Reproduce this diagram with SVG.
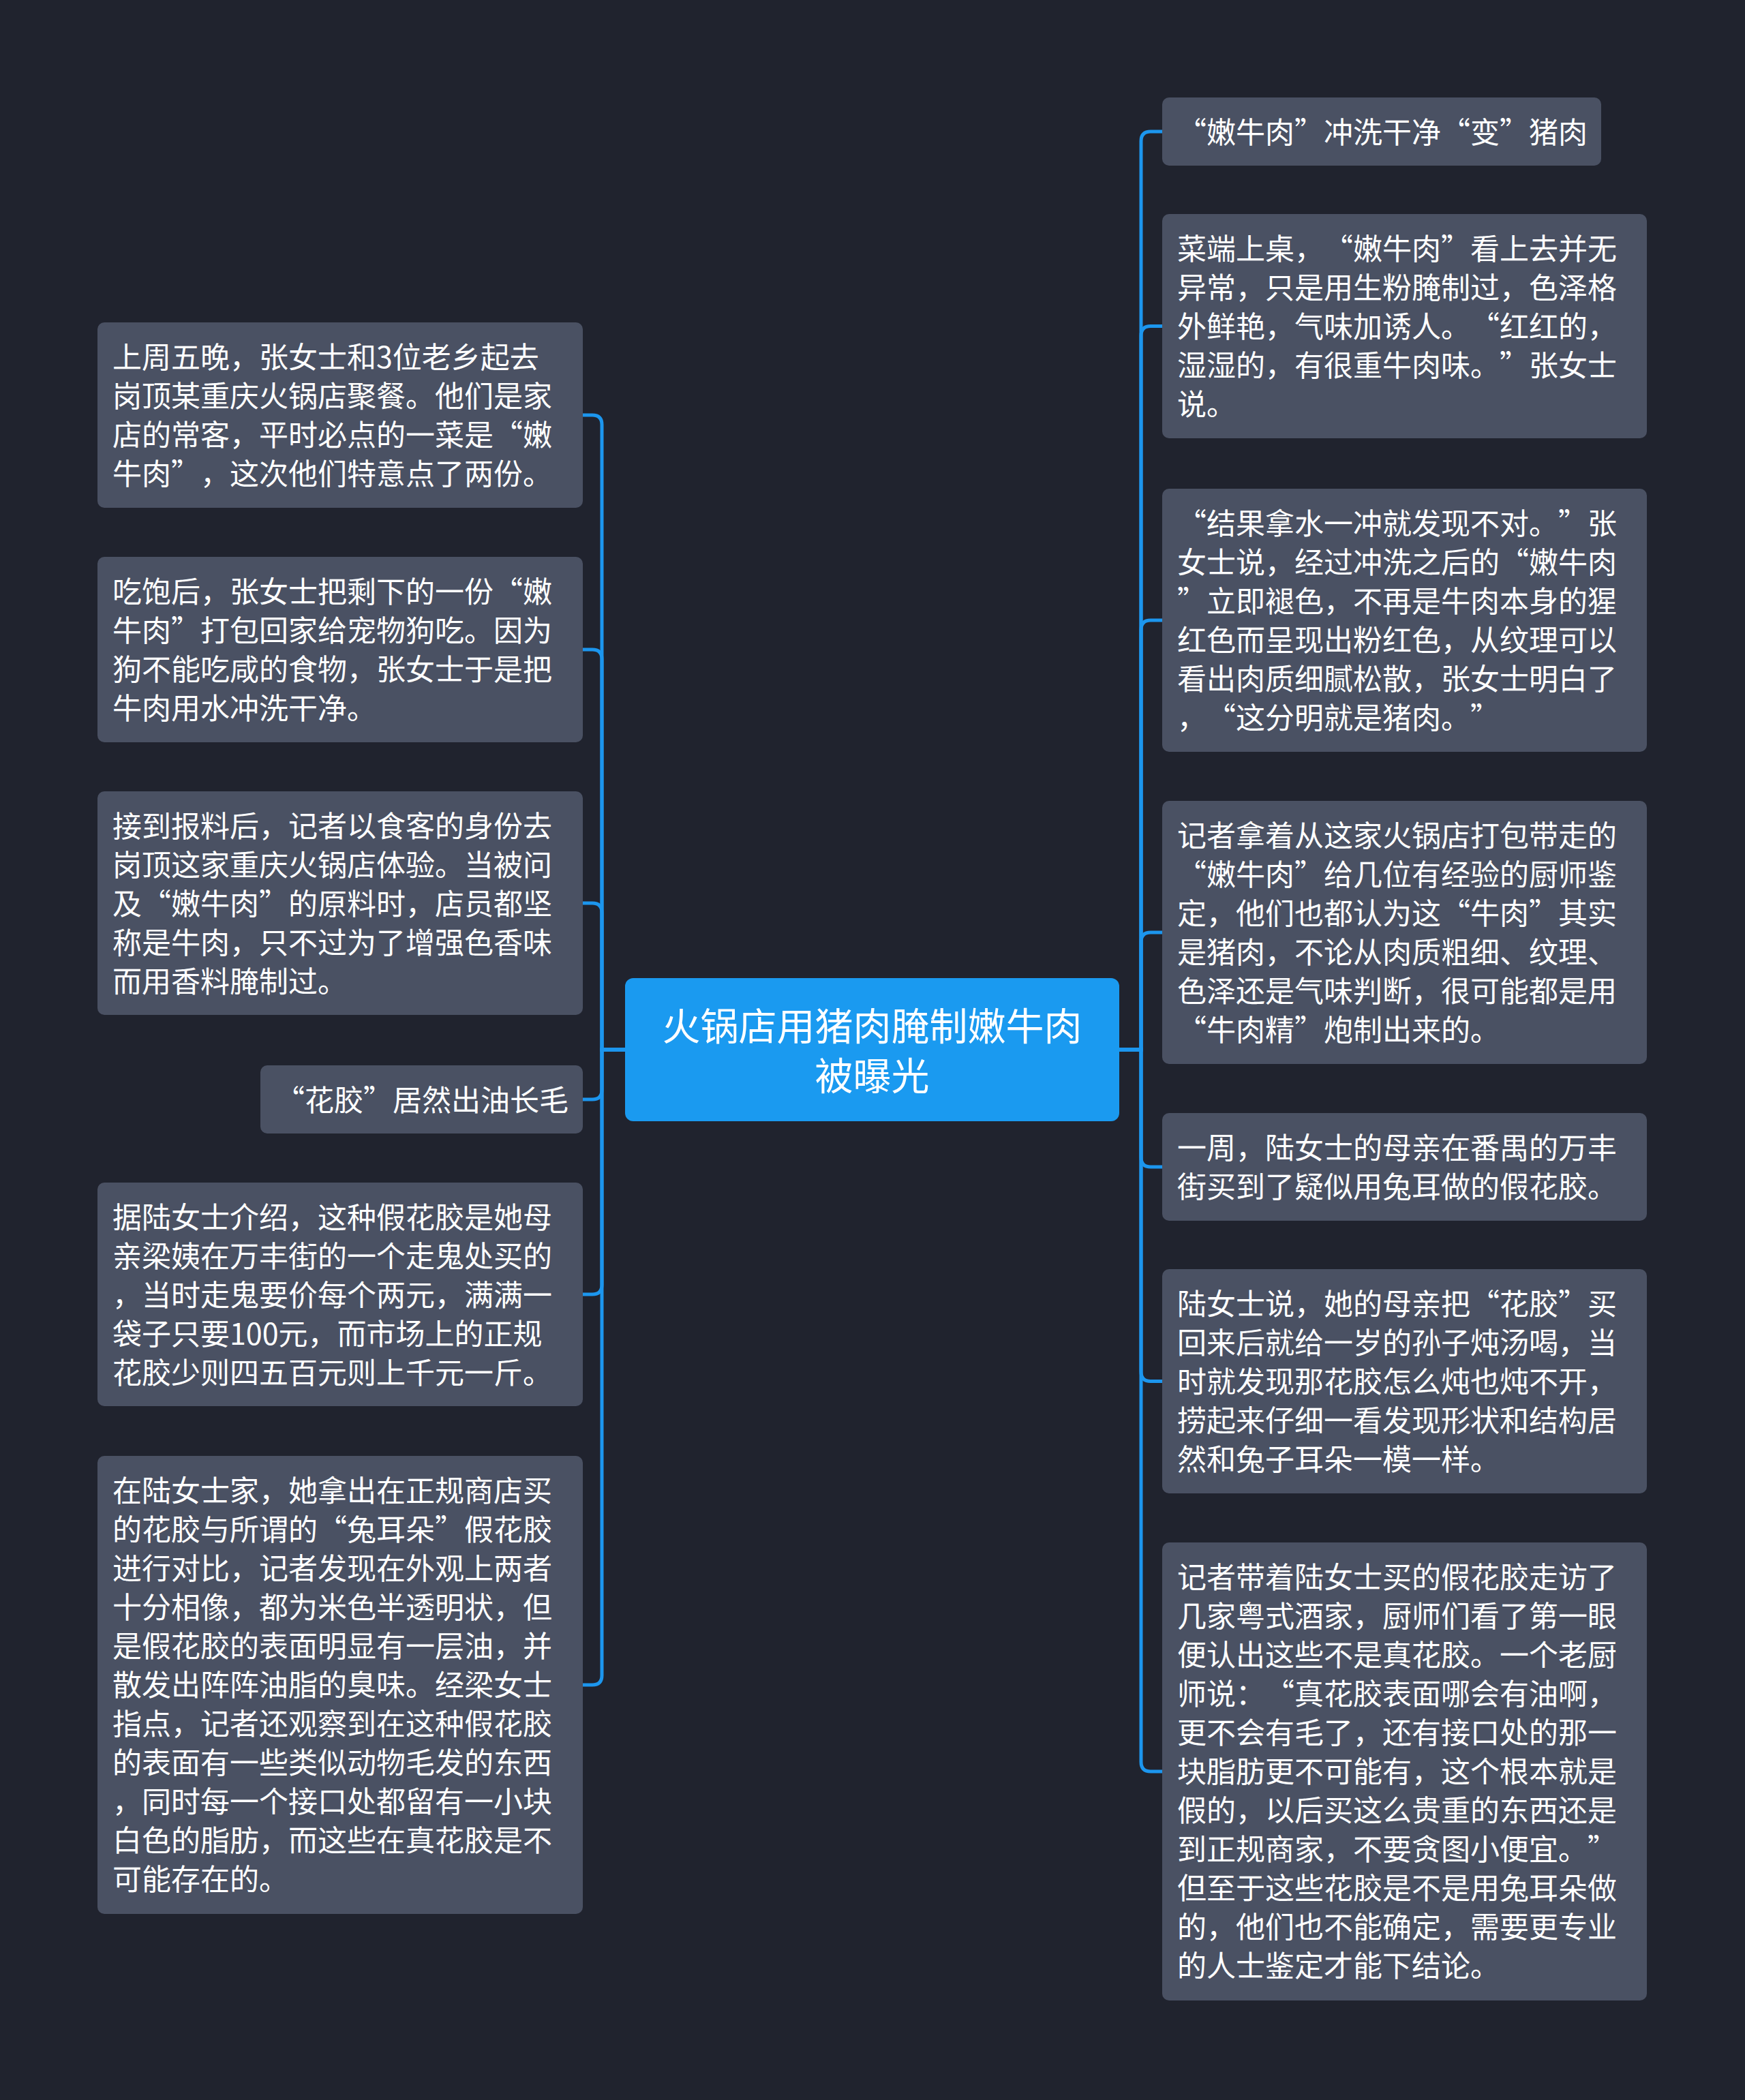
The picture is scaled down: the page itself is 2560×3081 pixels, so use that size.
<svg xmlns="http://www.w3.org/2000/svg" width="2560" height="3081" viewBox="0 0 2560 3081">
<style>
.bg{fill:#20232e}
.node{fill:#4a5163}
.root{fill:#1a9af0}
.t{font-family:"Noto Sans CJK SC","Noto Sans",sans-serif;font-size:43px;fill:#ffffff;text-spacing-trim:space-all}
.rt{font-family:"Noto Sans CJK SC","Noto Sans",sans-serif;font-size:56px;fill:#ffffff;text-anchor:middle}
.c{fill:none;stroke:#1c96ee;stroke-width:5}
</style>
<rect class="bg" x="0" y="0" width="2560" height="3081"/>
<g id="connectors">
<path class="c" d="M917 1540 H883 V623 Q883 609 869 609 H855"/>
<path class="c" d="M917 1540 H883 V967 Q883 953 869 953 H855"/>
<path class="c" d="M917 1540 H883 V1339 Q883 1325 869 1325 H855"/>
<path class="c" d="M917 1540 H883 V1599 Q883 1613 869 1613 H855"/>
<path class="c" d="M917 1540 H883 V1885 Q883 1899 869 1899 H855"/>
<path class="c" d="M917 1540 H883 V2458 Q883 2472 869 2472 H855"/>
<path class="c" d="M1642 1540 H1674 V207 Q1674 193 1688 193 H1705"/>
<path class="c" d="M1642 1540 H1674 V492.5 Q1674 478.5 1688 478.5 H1705"/>
<path class="c" d="M1642 1540 H1674 V924 Q1674 910 1688 910 H1705"/>
<path class="c" d="M1642 1540 H1674 V1382 Q1674 1368 1688 1368 H1705"/>
<path class="c" d="M1642 1540 H1674 V1698 Q1674 1712 1688 1712 H1705"/>
<path class="c" d="M1642 1540 H1674 V2012.5 Q1674 2026.5 1688 2026.5 H1705"/>
<path class="c" d="M1642 1540 H1674 V2585 Q1674 2599 1688 2599 H1705"/>
</g>
<g id="root">
<rect class="root" x="917" y="1435" width="725" height="210" rx="12"/>
<text class="rt" x="1279.5" y="1526">火锅店用猪肉腌制嫩牛肉<tspan x="1279.5" dy="73">被曝光</tspan></text>
</g>
<g id="L1">
<rect class="node" x="143" y="473" width="712" height="272" rx="10"/>
<text class="t" x="165" y="540">上周五晚，张女士和3位老乡起去<tspan x="165" dy="57">岗顶某重庆火锅店聚餐。他们是家</tspan><tspan x="165" dy="57">店的常客，平时必点的一菜是“嫩</tspan><tspan x="165" dy="57">牛肉”，这次他们特意点了两份。</tspan></text>
</g>
<g id="L2">
<rect class="node" x="143" y="817" width="712" height="272" rx="10"/>
<text class="t" x="165" y="884">吃饱后，张女士把剩下的一份“嫩<tspan x="165" dy="57">牛肉”打包回家给宠物狗吃。因为</tspan><tspan x="165" dy="57">狗不能吃咸的食物，张女士于是把</tspan><tspan x="165" dy="57">牛肉用水冲洗干净。</tspan></text>
</g>
<g id="L3">
<rect class="node" x="143" y="1161" width="712" height="328" rx="10"/>
<text class="t" x="165" y="1228">接到报料后，记者以食客的身份去<tspan x="165" dy="57">岗顶这家重庆火锅店体验。当被问</tspan><tspan x="165" dy="57">及“嫩牛肉”的原料时，店员都坚</tspan><tspan x="165" dy="57">称是牛肉，只不过为了增强色香味</tspan><tspan x="165" dy="57">而用香料腌制过。</tspan></text>
</g>
<g id="L4">
<rect class="node" x="382" y="1563" width="473" height="100" rx="10"/>
<text class="t" x="404" y="1630">“花胶”居然出油长毛</text>
</g>
<g id="L5">
<rect class="node" x="143" y="1735" width="712" height="328" rx="10"/>
<text class="t" x="165" y="1802">据陆女士介绍，这种假花胶是她母<tspan x="165" dy="57">亲梁姨在万丰街的一个走鬼处买的</tspan><tspan x="165" dy="57">，当时走鬼要价每个两元，满满一</tspan><tspan x="165" dy="57">袋子只要100元，而市场上的正规</tspan><tspan x="165" dy="57">花胶少则四五百元则上千元一斤。</tspan></text>
</g>
<g id="L6">
<rect class="node" x="143" y="2136" width="712" height="672" rx="10"/>
<text class="t" x="165" y="2203">在陆女士家，她拿出在正规商店买<tspan x="165" dy="57">的花胶与所谓的“兔耳朵”假花胶</tspan><tspan x="165" dy="57">进行对比，记者发现在外观上两者</tspan><tspan x="165" dy="57">十分相像，都为米色半透明状，但</tspan><tspan x="165" dy="57">是假花胶的表面明显有一层油，并</tspan><tspan x="165" dy="57">散发出阵阵油脂的臭味。经梁女士</tspan><tspan x="165" dy="57">指点，记者还观察到在这种假花胶</tspan><tspan x="165" dy="57">的表面有一些类似动物毛发的东西</tspan><tspan x="165" dy="57">，同时每一个接口处都留有一小块</tspan><tspan x="165" dy="57">白色的脂肪，而这些在真花胶是不</tspan><tspan x="165" dy="57">可能存在的。</tspan></text>
</g>
<g id="R1">
<rect class="node" x="1705" y="143" width="644" height="100" rx="10"/>
<text class="t" x="1727" y="210">“嫩牛肉”冲洗干净“变”猪肉</text>
</g>
<g id="R2">
<rect class="node" x="1705" y="314" width="711" height="329" rx="10"/>
<text class="t" x="1727" y="381">菜端上桌，“嫩牛肉”看上去并无<tspan x="1727" dy="57">异常，只是用生粉腌制过，色泽格</tspan><tspan x="1727" dy="57">外鲜艳，气味加诱人。“红红的，</tspan><tspan x="1727" dy="57">湿湿的，有很重牛肉味。”张女士</tspan><tspan x="1727" dy="57">说。</tspan></text>
</g>
<g id="R3">
<rect class="node" x="1705" y="717" width="711" height="386" rx="10"/>
<text class="t" x="1727" y="784">“结果拿水一冲就发现不对。”张<tspan x="1727" dy="57">女士说，经过冲洗之后的“嫩牛肉</tspan><tspan x="1727" dy="57">”立即褪色，不再是牛肉本身的猩</tspan><tspan x="1727" dy="57">红色而呈现出粉红色，从纹理可以</tspan><tspan x="1727" dy="57">看出肉质细腻松散，张女士明白了</tspan><tspan x="1727" dy="57">，“这分明就是猪肉。”</tspan></text>
</g>
<g id="R4">
<rect class="node" x="1705" y="1175" width="711" height="386" rx="10"/>
<text class="t" x="1727" y="1242">记者拿着从这家火锅店打包带走的<tspan x="1727" dy="57">“嫩牛肉”给几位有经验的厨师鉴</tspan><tspan x="1727" dy="57">定，他们也都认为这“牛肉”其实</tspan><tspan x="1727" dy="57">是猪肉，不论从肉质粗细、纹理、</tspan><tspan x="1727" dy="57">色泽还是气味判断，很可能都是用</tspan><tspan x="1727" dy="57">“牛肉精”炮制出来的。</tspan></text>
</g>
<g id="R5">
<rect class="node" x="1705" y="1633" width="711" height="158" rx="10"/>
<text class="t" x="1727" y="1700">一周，陆女士的母亲在番禺的万丰<tspan x="1727" dy="57">街买到了疑似用兔耳做的假花胶。</tspan></text>
</g>
<g id="R6">
<rect class="node" x="1705" y="1862" width="711" height="329" rx="10"/>
<text class="t" x="1727" y="1929">陆女士说，她的母亲把“花胶”买<tspan x="1727" dy="57">回来后就给一岁的孙子炖汤喝，当</tspan><tspan x="1727" dy="57">时就发现那花胶怎么炖也炖不开，</tspan><tspan x="1727" dy="57">捞起来仔细一看发现形状和结构居</tspan><tspan x="1727" dy="57">然和兔子耳朵一模一样。</tspan></text>
</g>
<g id="R7">
<rect class="node" x="1705" y="2263" width="711" height="672" rx="10"/>
<text class="t" x="1727" y="2330">记者带着陆女士买的假花胶走访了<tspan x="1727" dy="57">几家粤式酒家，厨师们看了第一眼</tspan><tspan x="1727" dy="57">便认出这些不是真花胶。一个老厨</tspan><tspan x="1727" dy="57">师说：“真花胶表面哪会有油啊，</tspan><tspan x="1727" dy="57">更不会有毛了，还有接口处的那一</tspan><tspan x="1727" dy="57">块脂肪更不可能有，这个根本就是</tspan><tspan x="1727" dy="57">假的，以后买这么贵重的东西还是</tspan><tspan x="1727" dy="57">到正规商家，不要贪图小便宜。”</tspan><tspan x="1727" dy="57">但至于这些花胶是不是用兔耳朵做</tspan><tspan x="1727" dy="57">的，他们也不能确定，需要更专业</tspan><tspan x="1727" dy="57">的人士鉴定才能下结论。</tspan></text>
</g>
</svg>
